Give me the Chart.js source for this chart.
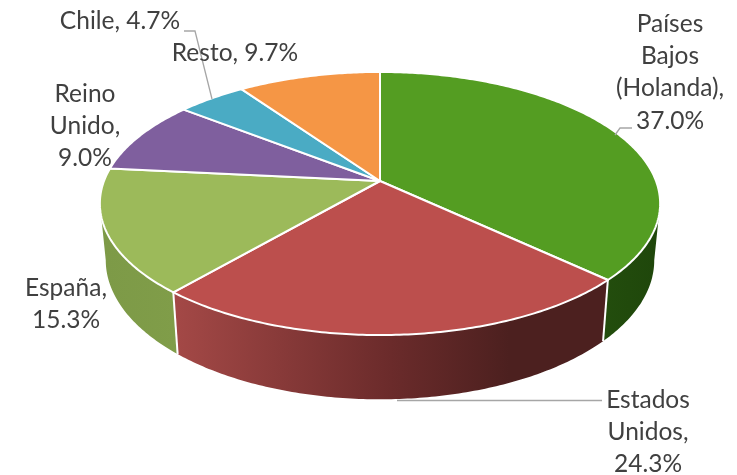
<!DOCTYPE html>
<html>
<head>
<meta charset="utf-8">
<title>Pie</title>
<script src="https://cdn.jsdelivr.net/npm/chart.js@4"></script>
<style>
  html, body { margin: 0; background: #fff; }
  canvas { display: block; }
</style>
</head>
<body>
<canvas id="pie-chart" width="737" height="475"></canvas>
<script>
// Data
const categories = ['Países\nBajos\n(Holanda),', 'Estados\nUnidos,', 'España,', 'Reino\nUnido,', 'Chile,', 'Resto,'];
const values = [37.0, 24.3, 15.3, 9.0, 4.7, 9.7];
const sliceColors = ['#549d22', '#bc4f4d', '#9cba5a', '#7f5f9e', '#4aabc4', '#f59645'];

// label anchors: centre x, first line y (same order as categories)
const labelX = [670, 648, 66, 85, 120, 235];
const labelY = [24, 400, 288, 94, 21, 53];
const oneLine = [false, false, false, false, true, true];

// leader lines (not every label has one)
const leaders = [
    [[632, 128], [620, 128], [615, 135]],
    [[602, 400.5], [397, 400.5]],
    [[184, 31], [195, 31], [212, 99]]
];

// side wall colours per slice, left to right
const wallStops = [
    [[0, '#234d0d'], [1, '#1f470b']],
    [[0, '#a34846'], [0.5, '#6b2b2b'], [0.78, '#4c201f'], [1, '#4c201f']],
    [[0, '#7d9a47'], [1, '#809d49']]
];

// The pie lies on a tilted plane, so circles become ellipses with the hub off centre
const TILT = 0.4627;
const PERSP = -0.171;
const WALL_SCALE = 0.979;
const WALL_TILT = 0.489;
const WALL_DROP = 55.5;

function project(arc, angle, lower) {
    const u = Math.cos(angle), v = Math.sin(angle);
    const d = 1 + PERSP * v;
    const r = arc.outerRadius;
    if (lower) {
        return [arc.x + r * WALL_SCALE * u / d, arc.y + WALL_DROP + r * WALL_TILT * v / d];
    }
    return [arc.x + r * u / d, arc.y + r * TILT * v / d];
}

function traceRim(ctx, arc, from, to, lower) {
    const steps = Math.max(2, Math.ceil(Math.abs(to - from) * 80));
    for (let i = 0; i <= steps; i++) {
        const p = project(arc, from + (to - from) * i / steps, lower);
        ctx.lineTo(p[0], p[1]);
    }
}

// Slices keep their angles from the library, only the outline is drawn on the tilted plane
Chart.ArcElement.prototype.draw = function (ctx) {
    ctx.save();
    ctx.beginPath();
    ctx.moveTo(this.x, this.y);
    traceRim(ctx, this, this.startAngle, this.endAngle, false);
    ctx.closePath();
    ctx.fillStyle = this.options.backgroundColor;
    ctx.fill();
    ctx.lineWidth = this.options.borderWidth;
    ctx.strokeStyle = this.options.borderColor;
    ctx.lineJoin = 'round';
    ctx.stroke();
    ctx.restore();
};

const wallPlugin = {
    id: 'wall',
    beforeDatasetsDraw(chart) {
        const ctx = chart.ctx;
        const arcs = chart.getDatasetMeta(0).data;
        // the wall is only seen between the two widest points of the rim
        const edge = Math.asin(-PERSP);
        arcs.forEach((arc, i) => {
            const from = Math.max(arc.startAngle, edge);
            const to = Math.min(arc.endAngle, Math.PI - edge);
            if (to <= from || !wallStops[i]) return;
            const a = project(arc, from, true), b = project(arc, to, true);
            const left = Math.min(a[0], b[0]), right = Math.max(a[0], b[0]);
            const grad = ctx.createLinearGradient(left, 0, right, 0);
            wallStops[i].forEach(s => grad.addColorStop(s[0], s[1]));
            ctx.beginPath();
            traceRim(ctx, arc, from, to, false);
            traceRim(ctx, arc, to, from, true);
            ctx.closePath();
            ctx.fillStyle = grad;
            ctx.fill();
        });
        // white seams where two walls meet
        ctx.strokeStyle = '#fff';
        ctx.lineWidth = 2;
        arcs.forEach(arc => {
            if (arc.endAngle < edge || arc.endAngle > Math.PI - edge) return;
            const top = project(arc, arc.endAngle, false), low = project(arc, arc.endAngle, true);
            ctx.beginPath();
            ctx.moveTo(top[0], top[1]);
            ctx.lineTo(low[0], low[1]);
            ctx.stroke();
        });
    },
    afterDatasetsDraw(chart) {
        const ctx = chart.ctx;
        ctx.save();
        ctx.strokeStyle = '#a6a6a6';
        ctx.lineWidth = 1.3;
        leaders.forEach(pts => {
            ctx.beginPath();
            pts.forEach(p => ctx.lineTo(p[0], p[1]));
            ctx.stroke();
        });
        ctx.fillStyle = '#404040';
        ctx.font = '24.5px Lato';
        ctx.textAlign = 'center';
        ctx.textBaseline = 'middle';
        categories.forEach((cat, i) => {
            const val = values[i].toFixed(1) + '%';
            const text = oneLine[i] ? cat + ' ' + val : cat + '\n' + val;
            text.split('\n').forEach((line, n) => {
                ctx.fillText(line, labelX[i], labelY[i] + n * 32.2);
            });
        });
        ctx.restore();
    }
};

window.addEventListener('DOMContentLoaded', () => {
    const ctx = document.getElementById('pie-chart').getContext('2d');
    new Chart(ctx, {
        type: 'pie',
        data: {
            labels: categories,
            datasets: [{
                data: values,
                backgroundColor: sliceColors,
                borderColor: '#ffffff',
                borderWidth: 2,
                radius: 276
            }]
        },
        options: {
            responsive: false,
            animation: false,
            layout: { padding: { left: 23, bottom: 113 } },
            plugins: { legend: { display: false }, tooltip: { enabled: false } }
        },
        plugins: [wallPlugin]
    });
});
</script>
</body>
</html>
